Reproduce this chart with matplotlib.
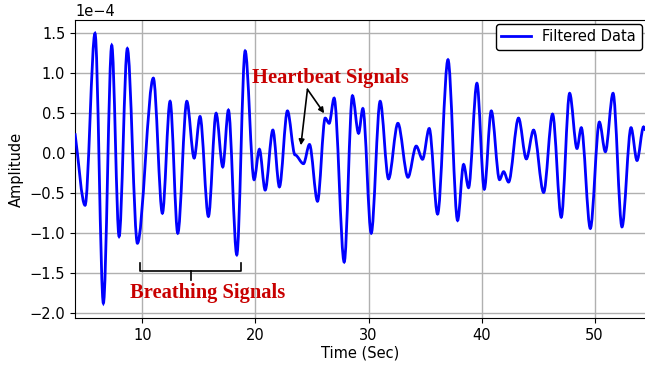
import matplotlib

matplotlib.use("Agg")
import matplotlib.pyplot as plt
from matplotlib.lines import Line2D
from matplotlib.patches import PathPatch
from matplotlib.path import Path

# peaks, troughs and shoulders of the filtered signal
TIME_SEC = [
    4.04, 4.93, 5.81, 6.55, 7.29, 7.94, 8.67, 9.56, 10.97, 11.77,
    12.45, 13.13, 13.93, 14.58, 15.10, 15.84, 16.52, 17.11, 17.61, 18.35,
    19.09, 19.88, 20.35, 20.86, 21.54, 22.12, 22.83, 23.50, 24.25, 24.78,
    25.49, 26.17, 26.52, 26.96, 27.85, 28.58, 29.12, 29.50, 30.24, 31.03,
    31.77, 32.60, 33.49, 34.22, 34.78, 35.37, 36.11, 37.03, 37.88, 38.41,
    38.85, 39.59, 40.24, 40.86, 41.59, 41.95, 42.39, 43.27, 43.96, 44.60,
    45.49, 46.28, 47.05, 47.79, 48.44, 48.82, 49.62, 50.42, 50.95, 51.63,
    52.42, 53.22, 53.75, 54.33, 54.50,
]
AMPLITUDE_E4 = [
    0.25, -0.65, 1.50, -1.875, 1.35, -1.04, 1.31, -1.125, 0.94, -0.75,
    0.65, -1.00, 0.65, -0.06, 0.46, -0.79, 0.50, -0.17, 0.54, -1.27,
    1.28, -0.33, 0.05, -0.46, 0.29, -0.42, 0.53, -0.02, -0.13, 0.11,
    -0.60, 0.44, 0.375, 0.69, -1.36, 0.72, 0.25, 0.56, -1.00, 0.65,
    -0.32, 0.375, -0.30, 0.09, -0.075, 0.31, -0.76, 1.17, -0.84, -0.14,
    -0.43, 0.875, -0.45, 0.53, -0.33, -0.23, -0.36, 0.44, -0.07, 0.29,
    -0.49, 0.49, -0.80, 0.75, 0.06, 0.32, -0.94, 0.39, 0.02, 0.75,
    -0.92, 0.32, -0.09, 0.33, 0.29,
]
SCALE = 1e-4

HEART_TEXT = "Heartbeat Signals"
HEART_TEXT_XY = (26.6, 0.94)
HEART_ARROW_FROM = (24.6, 0.80)
HEART_ARROW_TO = [(24.02, 0.10), (26.08, 0.50)]

BREATH_TEXT = "Breathing Signals"
BREATH_TEXT_XY = (15.8, -1.75)
BRACE_X = (9.75, 14.31, 18.73)
BRACE_Y = (-1.37, -1.47, -1.58)

RED = "#c80000"
BLUE = "#0000ff"


def smooth_path(xs, ys):
    # cubic bezier between extrema, flat tangent at each turning point
    verts = [(xs[0], ys[0])]
    codes = [Path.MOVETO]
    for i in range(len(xs) - 1):
        x0, y0, x1, y1 = xs[i], ys[i], xs[i + 1], ys[i + 1]
        dx = x1 - x0
        c1y = y0 + (y1 - y0) / 3 if i == 0 else y0
        verts += [(x0 + dx / 3, c1y), (x1 - dx / 3, y1), (x1, y1)]
        codes += [Path.CURVE4] * 3
    return Path(verts, codes)


fig = plt.figure(figsize=(6.45, 3.66), dpi=100)
ax = fig.add_axes([75 / 645, 48 / 366, 570.5 / 645, 298 / 366])

amps = [a * SCALE for a in AMPLITUDE_E4]
curve = PathPatch(smooth_path(TIME_SEC, amps), facecolor="none",
                  edgecolor=BLUE, lw=2, zorder=3)
ax.add_patch(curve)

ax.set_xlim(4.04, 54.5)
ax.set_ylim(-2.06e-4, 1.667e-4)
ax.ticklabel_format(axis="y", style="sci", scilimits=(0, 0))
ax.grid(True, color="#b0b0b0", lw=1)
ax.set_axisbelow(True)
ax.tick_params(labelsize=10.5)
ax.yaxis.get_offset_text().set_fontsize(10.5)
ax.set_xlabel("Time (Sec)", fontsize=10.5, labelpad=2)
ax.set_ylabel("Amplitude", fontsize=10.5)

handle = Line2D([], [], color=BLUE, lw=2)
ax.legend([handle], ["Filtered Data"], loc="upper right", fontsize=10.5,
          framealpha=1, edgecolor="black", borderaxespad=0.25)

serif = dict(family="Liberation Serif", weight="bold", color=RED, fontsize=14.8)
ax.text(HEART_TEXT_XY[0], HEART_TEXT_XY[1] * SCALE, HEART_TEXT,
        ha="center", va="center", **serif)
for tx, ty in HEART_ARROW_TO:
    ax.annotate("", xy=(tx, ty * SCALE),
                xytext=(HEART_ARROW_FROM[0], HEART_ARROW_FROM[1] * SCALE),
                arrowprops=dict(arrowstyle="-|>", color="black", lw=1.2,
                                mutation_scale=8, shrinkA=0, shrinkB=0))

ax.text(BREATH_TEXT_XY[0], BREATH_TEXT_XY[1] * SCALE, BREATH_TEXT,
        ha="center", va="center", **serif)
bx0, bxm, bx1 = BRACE_X
top, mid, tip = (v * SCALE for v in BRACE_Y)
ax.plot([bx0, bx0, bx1, bx1], [top, mid, mid, top], color="black", lw=1.2)
ax.plot([bxm, bxm], [mid, tip], color="black", lw=1.2)

fig.savefig("out.png", dpi=100)
